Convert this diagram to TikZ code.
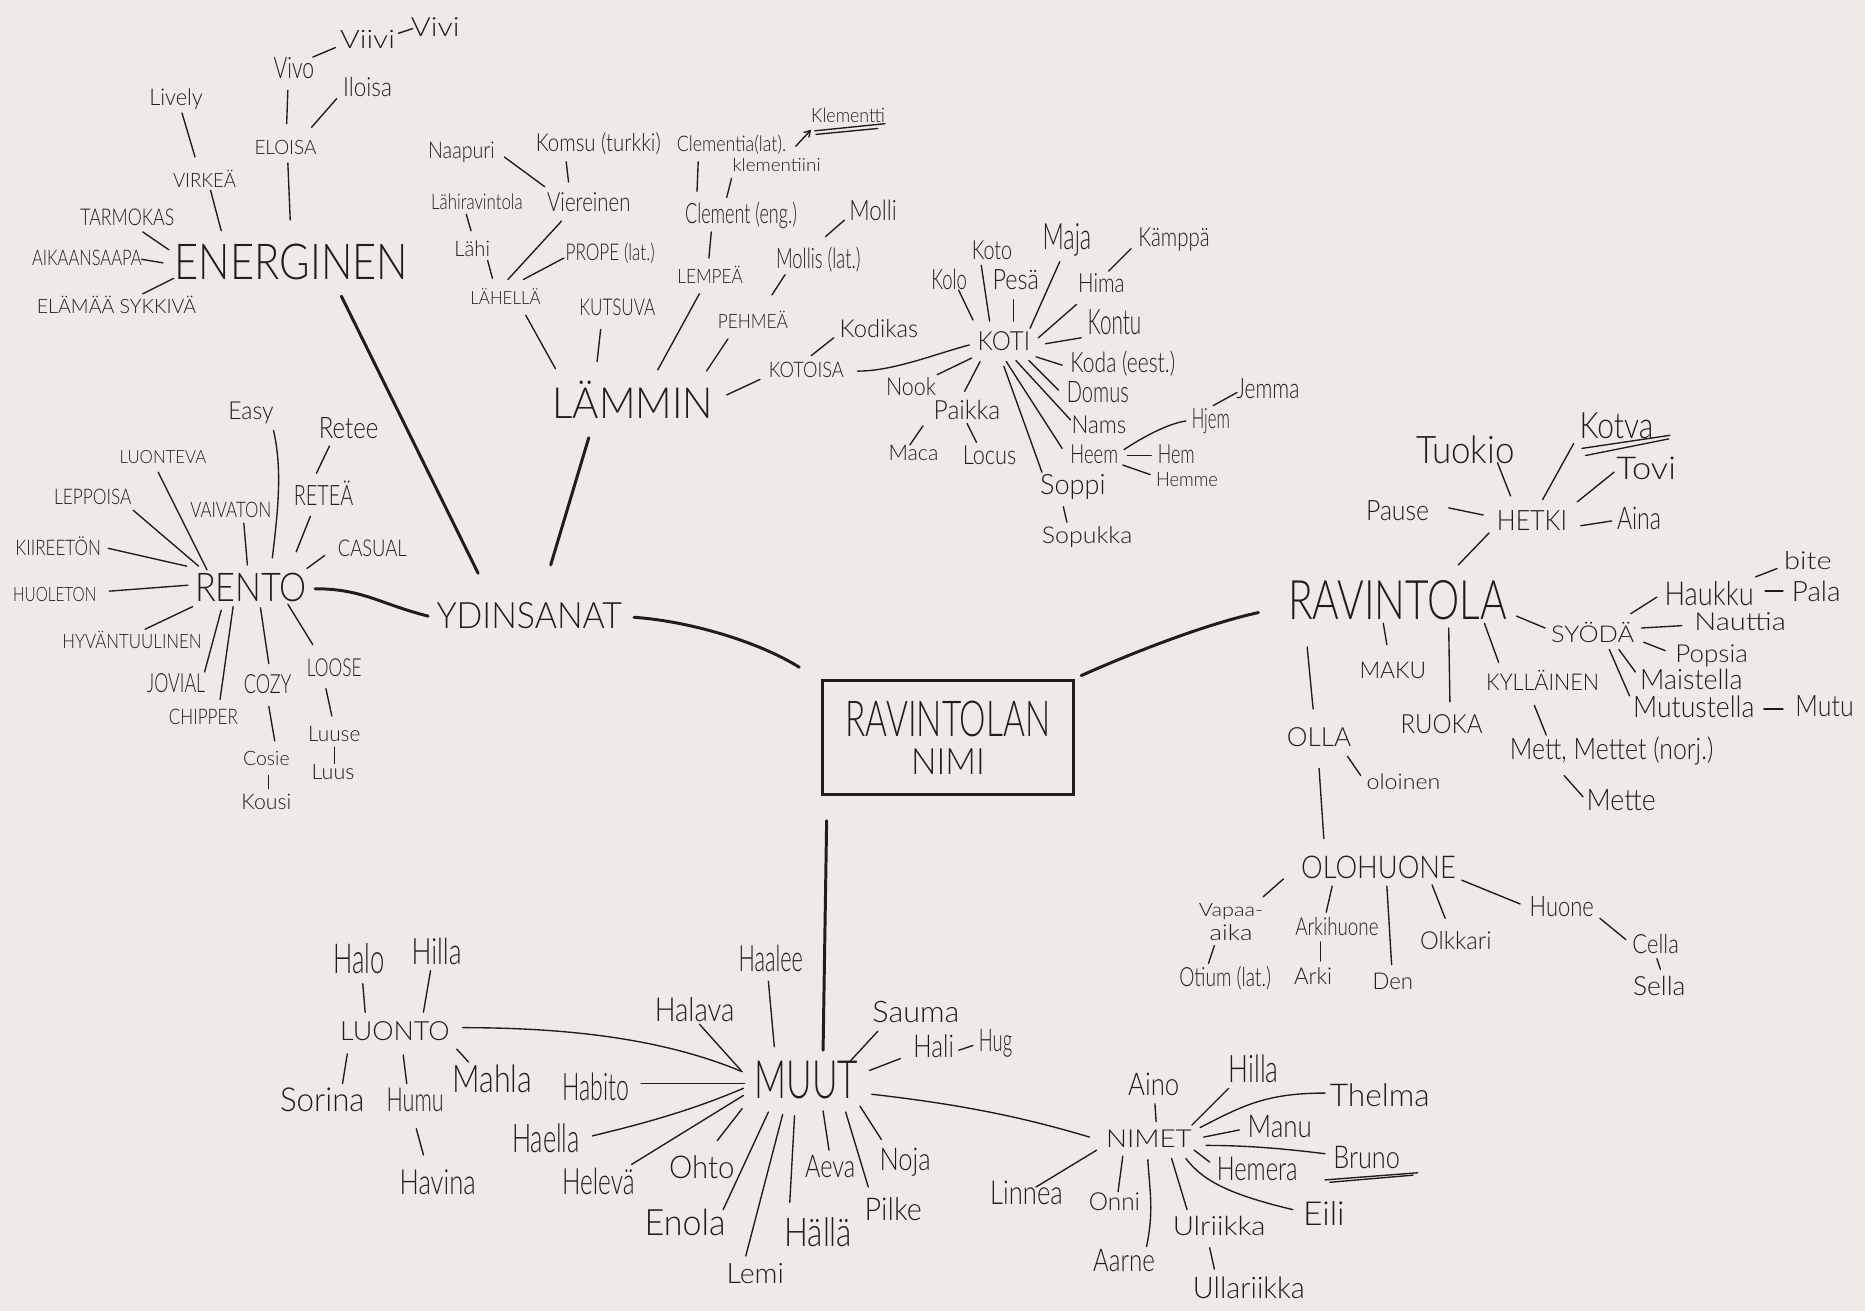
\documentclass[tikz,border=0pt]{standalone}
\usepackage{fontspec}
\IfFontExistsTF{Lato Light}{\setmainfont{Lato Light}}{\setmainfont{Lato}}
\usetikzlibrary{arrows.meta}
\definecolor{bg}{RGB}{238,234,230}
\definecolor{ink}{RGB}{30,30,30}
\newlength\fwl
\newcommand\Fw[3]{\settowidth\fwl{#3}\pgfmathsetmacro\fsx{#1/\fwl}\pgfmathsetmacro\fsy{max(min(#2/7.2,1.7*\fsx),0.85*\fsx)}\scalebox{\fsx}[\fsy]{#3}}
\newcommand\Cn[6]{\draw[ln] ([shift={(#2,#3)}]#1.center) -- ([shift={(#5,#6)}]#4.center);}
\newcommand\Mn[6]{\draw[mainln] ([shift={(#2,#3)}]#1.center) -- ([shift={(#5,#6)}]#4.center);}
\begin{document}
\begin{tikzpicture}[x=1pt,y=-1pt,
  every node/.style={text=ink, inner sep=0pt, anchor=center},
  ln/.style={draw=ink, line width=1.15pt, line cap=round},
  mainln/.style={draw=ink, line width=2.5pt, line cap=round}]
\fill[bg] (0,0) rectangle (1568,1102);
\useasboundingbox (0,0) rectangle (1568,1102);

% ---------- centre ----------
\node[draw=ink, line width=2pt, minimum width=211pt, minimum height=96pt, align=center] (box) at (797,620)
  {\Fw{172}{30}{RAVINTOLAN}\\[9pt]\Fw{62}{22}{NIMI}};
\node (ydin) at (445,518) {\Fw{156}{22}{YDINSANAT}};
\node (ravintola) at (1175,505) {\Fw{184}{33}{RAVINTOLA}};
\node (muut) at (678,908) {\Fw{87}{32}{MUUT}};

\draw[mainln] ([shift={(88,1)}]ydin.center) .. controls +(45,3) and +(-35,-22) .. ([shift={(-125,-59)}]box.center);
\draw[mainln] ([shift={(112,-52)}]box.center) .. controls +(45,-20) and +(-45,10) .. ([shift={(-117,10)}]ravintola.center);
\Mn{box}{-102}{70}{muut}{14}{-25}

% ---------- ENERGINEN ----------
\node (ener) at (245,220) {\Fw{196}{30}{ENERGINEN}};
\node (virkea) at (172,150) {\Fw{53}{12}{VIRKEÄ}};
\node (lively) at (148,83) {\Fw{45}{14}{Lively}};
\node (eloisa) at (240,124) {\Fw{52}{12}{ELOISA}};
\node (vivo) at (247,57) {\Fw{34}{18}{Vivo}};
\node (iloisa) at (309,73) {\Fw{41}{16}{Iloisa}};
\node (viivi) at (309,33) {\Fw{46}{15}{Viivi}};
\node (vivi) at (366,23) {\Fw{41}{16}{Vivi}};
\node (tarmo) at (107,183) {\Fw{79}{14}{TARMOKAS}};
\node (aikaan) at (73,217) {\Fw{92}{13}{AIKAANSAAPA}};
\node (elamaa) at (98,256) {\Fw{134}{12}{ELÄMÄÄ SYKKIVÄ}};
\Cn{virkea}{5}{10}{ener}{-59}{-26}
\Cn{lively}{5}{12}{virkea}{-8}{-18}
\Cn{eloisa}{2}{13}{ener}{-1}{-35}
\Cn{vivo}{-5}{19}{eloisa}{1}{-20}
\Cn{iloisa}{-26}{10}{eloisa}{22}{-17}
\Cn{vivo}{16}{-9}{viivi}{-27}{7}
\Cn{viivi}{26}{-5}{vivi}{-19}{1}
\Cn{tarmo}{13}{12}{ener}{-103}{-10}
\Cn{aikaan}{46}{1}{ener}{-108}{1}
\Cn{elamaa}{22}{-9}{ener}{-99}{14}
\Mn{ener}{42}{29}{ydin}{-43}{-36}

% ---------- LÄMMIN ----------
\node (lammin) at (532,336) {\Fw{135}{26}{LÄMMIN}};
\node (lahella) at (425,249) {\Fw{59}{11}{LÄHELLÄ}};
\node (lahi) at (397,209) {\Fw{30}{13}{Lähi}};
\node (lahirav) at (401,170) {\Fw{77}{13}{Lähiravintola}};
\node (viereinen) at (495,170) {\Fw{70}{16}{Viereinen}};
\node (naapuri) at (388,128) {\Fw{56}{14}{Naapuri}};
\node (komsu) at (503,121) {\Fw{105}{15}{Komsu (turkki)}};
\node (prope) at (513,213) {\Fw{75}{14}{PROPE (lat.)}};
\node (kutsuva) at (519,258) {\Fw{64}{14}{KUTSUVA}};
\node (lempea) at (597,231) {\Fw{55}{12}{LEMPEÄ}};
\node (clement) at (623,181) {\Fw{94}{17}{Clement (eng.)}};
\node (clementia) at (615,122) {\Fw{92}{13}{Clementia(lat).}};
\node (klementiini) at (653,139) {\Fw{74}{11}{klementiini}};
\node (klementti) at (713,97) {\Fw{62}{12}{Klementti}};
\node (pehmea) at (633,269) {\Fw{59}{12}{PEHMEÄ}};
\node (mollis) at (688,218) {\Fw{71}{17}{Mollis (lat.)}};
\node (molli) at (734,177) {\Fw{40}{17}{Molli}};
\node (kotoisa) at (678,311) {\Fw{63}{13}{KOTOISA}};
\node (kodikas) at (739,276) {\Fw{66}{15}{Kodikas}};
\Cn{lahella}{17}{16}{lammin}{-65}{-26}
\Cn{lahi}{13}{10}{lahella}{-11}{-15}
\Cn{lahirav}{-9}{10}{lahi}{-1}{-15}
\Cn{viereinen}{-23}{16}{lahella}{2}{-14}
\Cn{naapuri}{36}{4}{viereinen}{-37}{-13}
\Cn{komsu}{-27}{15}{viereinen}{-17}{-17}
\Cn{prope}{-39}{4}{lahella}{15}{-14}
\Cn{kutsuva}{-14}{19}{lammin}{-30}{-32}
\Cn{lempea}{-9}{16}{lammin}{21}{-25}
\Cn{clement}{-25}{14}{lempea}{-1}{-14}
\Cn{clementia}{-28}{14}{clement}{-37}{-20}
\Cn{klementiini}{-38}{11}{clement}{-12}{-15}
\draw[ln, -{Straight Barb[length=5pt,width=6pt]}] ([shift={(54,1)}]clementia.center) -- ([shift={(-31,12)}]klementti.center);
\draw[ln] ([shift={(-28,13)}]klementti.center) -- ([shift={(31,7)}]klementti.center);
\draw[ln] ([shift={(-27,16)}]klementti.center) -- ([shift={(25,11)}]klementti.center);
\Cn{pehmea}{-21}{16}{lammin}{62}{-24}
\Cn{mollis}{-28}{13}{pehmea}{16}{-21}
\Cn{molli}{-24}{8}{mollis}{6}{-19}
\Cn{kotoisa}{-39}{8}{lammin}{79}{-4}
\Cn{kodikas}{-38}{8}{kotoisa}{4}{-12}
\Mn{lammin}{-37}{32}{ydin}{18}{-43}

% ---------- KOTI ----------
\node (koti) at (844,287) {\Fw{44}{16}{KOTI}};
\node (kolo) at (798,235) {\Fw{30}{17}{Kolo}};
\node (koto) at (834,210) {\Fw{34}{16}{Koto}};
\node (pesa) at (854,235) {\Fw{39}{17}{Pesä}};
\node (maja) at (897,202) {\Fw{41}{22}{Maja}};
\node (hima) at (926,238) {\Fw{39}{16}{Hima}};
\node (kamppa) at (987,201) {\Fw{60}{16}{Kämppä}};
\node (kontu) at (937,271) {\Fw{45}{22}{Kontu}};
\node (koda) at (944,306) {\Fw{88}{17}{Koda (eest.)}};
\node (domus) at (923,330) {\Fw{52}{18}{Domus}};
\node (nams) at (924,357) {\Fw{46}{15}{Nams}};
\node (heem) at (920,382) {\Fw{40}{16}{Heem}};
\node (soppi) at (902,409) {\Fw{55}{17}{Soppi}};
\node (sopukka) at (914,452) {\Fw{76}{14}{Sopukka}};
\node (hjem) at (1018,354) {\Fw{32}{17}{Hjem}};
\node (jemma) at (1066,327) {\Fw{53}{17}{Jemma}};
\node (hem) at (989,382) {\Fw{31}{16}{Hem}};
\node (hemme) at (998,403) {\Fw{52}{12}{Hemme}};
\node (nook) at (766,325) {\Fw{42}{15}{Nook}};
\node (paikka) at (813,345) {\Fw{56}{16}{Paikka}};
\node (maca) at (768,381) {\Fw{42}{13}{Maca}};
\node (locus) at (832,383) {\Fw{45}{16}{Locus}};
\draw[ln] ([shift={(43,1)}]kotoisa.center) .. controls +(30,0) and +(-30,8) .. ([shift={(-29,3)}]koti.center);
\Cn{kolo}{8}{9}{koti}{-26}{-18}
\Cn{koto}{-9}{13}{koti}{-12}{-17}
\Cn{pesa}{-2}{17}{koti}{8}{-17}
\Cn{maja}{-6}{18}{koti}{22}{-11}
\Cn{hima}{-21}{18}{koti}{29}{-3}
\Cn{kamppa}{-36}{8}{hima}{6}{-10}
\Cn{kontu}{-28}{13}{koti}{35}{2}
\Cn{koda}{-51}{1}{koti}{27}{13}
\Cn{domus}{-33}{-2}{koti}{21}{16}
\Cn{nams}{-24}{-4}{koti}{10}{16}
\Cn{heem}{-27}{-5}{koti}{2}{17}
\Cn{soppi}{-26}{-12}{koti}{0}{21}
\Cn{soppi}{-8}{17}{sopukka}{-17}{-13}
\draw[ln] ([shift={(25,-4)}]heem.center) .. controls +(15,-10) and +(-15,2) .. ([shift={(-21,0)}]hjem.center);
\Cn{hjem}{2}{-13}{jemma}{-26}{3}
\Cn{heem}{28}{1}{hem}{-21}{1}
\Cn{heem}{24}{9}{hemme}{-31}{-4}
\Cn{nook}{22}{-10}{koti}{-27}{14}
\Cn{paikka}{-2}{-16}{koti}{-20}{17}
\Cn{maca}{-3}{-7}{paikka}{-37}{13}
\Cn{locus}{-11}{-11}{paikka}{0}{11}

% ---------- RENTO ----------
\node (rento) at (211,494) {\Fw{94}{24}{RENTO}};
\node (easy) at (211,347) {\Fw{38}{15}{Easy}};
\node (retee) at (293,360) {\Fw{50}{18}{Retee}};
\node (retea) at (272,415) {\Fw{50}{17}{RETEÄ}};
\node (casual) at (313,461) {\Fw{58}{14}{CASUAL}};
\node (vaivaton) at (194,429) {\Fw{68}{13}{VAIVATON}};
\node (luonteva) at (137,384) {\Fw{73}{11}{LUONTEVA}};
\node (leppoisa) at (78,418) {\Fw{65}{13}{LEPPOISA}};
\node (kiireeton) at (49,459) {\Fw{72}{13}{KIIREETÖN}};
\node (huoleton) at (46,500) {\Fw{70}{12}{HUOLETON}};
\node (hyvan) at (111,538) {\Fw{117}{12}{HYVÄNTUULINEN}};
\node (jovial) at (148,574) {\Fw{49}{16}{JOVIAL}};
\node (chipper) at (171,603) {\Fw{58}{13}{CHIPPER}};
\node (cozy) at (225,575) {\Fw{40}{16}{COZY}};
\node (cosie) at (224,638) {\Fw{39}{12}{Cosie}};
\node (kousi) at (224,674) {\Fw{42}{13}{Kousi}};
\node (loose) at (281,561) {\Fw{46}{15}{LOOSE}};
\node (luuse) at (281,617) {\Fw{44}{13}{Luuse}};
\node (luus) at (280,649) {\Fw{36}{13}{Luus}};
\draw[ln] ([shift={(19,15)}]easy.center) .. controls +(8,35) and +(4,-35) .. ([shift={(18,-25)}]rento.center);
\Cn{retee}{-16}{15}{retea}{-6}{-17}
\Cn{retea}{-11}{19}{rento}{38}{-30}
\Cn{casual}{-40}{6}{rento}{47}{-16}
\Cn{vaivaton}{11}{11}{rento}{-3}{-19}
\Cn{luonteva}{-4}{13}{rento}{-37}{-15}
\Cn{leppoisa}{34}{11}{rento}{-44}{-18}
\Cn{kiireeton}{42}{2}{rento}{-54}{-18}
\Cn{huoleton}{46}{-3}{rento}{-53}{-2}
\Cn{hyvan}{11}{-9}{rento}{-49}{16}
\Cn{jovial}{24}{-9}{rento}{-25}{19}
\Cn{chipper}{14}{-15}{rento}{-15}{16}
\Cn{cozy}{1}{-17}{rento}{8}{17}
\Cn{cozy}{1}{19}{cosie}{7}{-15}
\Cn{cosie}{2}{14}{kousi}{2}{-11}
\Cn{loose}{-18}{-19}{rento}{31}{14}
\Cn{loose}{-7}{18}{luuse}{-2}{-15}
\Cn{luuse}{0}{11}{luus}{1}{-7}
\draw[mainln] ([shift={(54,1)}]rento.center) .. controls +(40,0) and +(-40,-10) .. ([shift={(-85,0)}]ydin.center);

% ---------- RAVINTOLA ----------
\node (hetki) at (1288,438) {\Fw{59}{17}{HETKI}};
\node (pause) at (1175,429) {\Fw{53}{17}{Pause}};
\node (tuokio) at (1232,378) {\Fw{83}{23}{Tuokio}};
\node (kotva) at (1359,358) {\Fw{62}{22}{Kotva}};
\node (tovi) at (1384,394) {\Fw{50}{19}{Tovi}};
\node (aina) at (1378,436) {\Fw{37}{19}{Aina}};
\node (syoda) at (1339,532) {\Fw{70}{14}{SYÖDÄ}};
\node (haukku) at (1437,499) {\Fw{75}{20}{Haukku}};
\node (bite) at (1520,471) {\Fw{40}{15}{bite}};
\node (pala) at (1527,497) {\Fw{41}{17}{Pala}};
\node (nauttia) at (1463,523) {\Fw{77}{15}{Nauttia}};
\node (popsia) at (1439,551) {\Fw{61}{15}{Popsia}};
\node (maistella) at (1422,571) {\Fw{86}{17}{Maistella}};
\node (mutustella) at (1424,594) {\Fw{102}{18}{Mutustella}};
\node (mutu) at (1534,594) {\Fw{49}{18}{Mutu}};
\node (maku) at (1171,564) {\Fw{56}{14}{MAKU}};
\node (ruoka) at (1212,609) {\Fw{69}{16}{RUOKA}};
\node (kyll) at (1297,572) {\Fw{95}{14}{KYLLÄINEN}};
\node (mett) at (1355,631) {\Fw{171}{18}{Mett, Mettet (norj.)}};
\node (mette) at (1363,673) {\Fw{58}{18}{Mette}};
\node (olla) at (1109,620) {\Fw{54}{16}{OLLA}};
\node (oloinen) at (1180,657) {\Fw{62}{13}{oloinen}};
\node (olohuone) at (1159,729) {\Fw{130}{19}{OLOHUONE}};
\Cn{hetki}{-36}{10}{ravintola}{51}{-30}
\Cn{pause}{43}{-2}{hetki}{-41}{-5}
\Cn{tuokio}{27}{11}{hetki}{-18}{-21}
\Cn{kotva}{-36}{15}{hetki}{9}{-18}
\draw[ln] ([shift={(-29,19)}]kotva.center) -- ([shift={(45,8)}]kotva.center);
\draw[ln] ([shift={(-26,25)}]kotva.center) -- ([shift={(44,11)}]kotva.center);
\Cn{tovi}{-27}{3}{hetki}{38}{-16}
\Cn{aina}{-23}{2}{hetki}{41}{4}
\Cn{ravintola}{100}{13}{syoda}{-40}{-4}
\Cn{syoda}{32}{-16}{haukku}{-44}{3}
\Cn{haukku}{39}{-14}{bite}{-26}{7}
\Cn{haukku}{47}{-2}{pala}{-28}{0}
\Cn{syoda}{41}{-4}{nauttia}{-49}{3}
\Cn{syoda}{43}{8}{popsia}{-39}{-4}
\Cn{syoda}{22}{14}{maistella}{-47}{-6}
\Cn{syoda}{14}{14}{mutustella}{-54}{-9}
\Cn{mutustella}{59}{2}{mutu}{-35}{2}
\Cn{ravintola}{-12}{19}{maku}{-5}{-22}
\Cn{ravintola}{43}{23}{ruoka}{7}{-19}
\Cn{ravintola}{73}{19}{kyll}{-37}{-15}
\Cn{kyll}{-7}{21}{mett}{-55}{-13}
\Cn{mett}{-40}{21}{mette}{-32}{-3}
\Cn{ravintola}{-76}{39}{olla}{-5}{-24}
\Cn{olla}{24}{16}{oloinen}{-36}{-5}
\Cn{olla}{0}{26}{olohuone}{-46}{-24}

% ---------- OLOHUONE ----------
\node[align=center] (vapaa) at (1035,775) {\Fw{54}{11}{Vapaa-}\\[3pt]\Fw{36}{9}{aika}};
\node (otium) at (1030,822) {\Fw{77}{16}{Otium (lat.)}};
\node (arkihuone) at (1124,779) {\Fw{70}{15}{Arkihuone}};
\node (arki) at (1104,821) {\Fw{32}{14}{Arki}};
\node (den) at (1171,825) {\Fw{34}{14}{Den}};
\node (olkkari) at (1224,791) {\Fw{60}{15}{Olkkari}};
\node (huone) at (1313,762) {\Fw{54}{17}{Huone}};
\node (cella) at (1392,794) {\Fw{39}{16}{Cella}};
\node (sella) at (1395,829) {\Fw{44}{16}{Sella}};
\Cn{olohuone}{-80}{10}{vapaa}{27}{-21}
\Cn{vapaa}{-14}{20}{otium}{-14}{-12}
\Cn{olohuone}{-39}{16}{arkihuone}{-9}{-12}
\Cn{arkihuone}{-14}{13}{arki}{6}{-13}
\Cn{olohuone}{7}{16}{den}{-1}{-14}
\Cn{olohuone}{45}{15}{olkkari}{-9}{-19}
\Cn{olohuone}{70}{11}{huone}{-35}{-2}
\Cn{huone}{32}{10}{cella}{-25}{-4}
\Cn{cella}{1}{12}{sella}{1}{-14}

% ---------- MUUT ----------
\node (luonto) at (332,867) {\Fw{92}{16}{LUONTO}};
\node (halo) at (302,806) {\Fw{43}{25}{Halo}};
\node (hilla1) at (367,800) {\Fw{42}{22}{Hilla}};
\node (sorina) at (271,925) {\Fw{71}{20}{Sorina}};
\node (humu) at (349,925) {\Fw{48}{20}{Humu}};
\node (havina) at (368,994) {\Fw{64}{21}{Havina}};
\node (mahla) at (414,907) {\Fw{67}{23}{Mahla}};
\node (habito) at (501,914) {\Fw{56}{23}{Habito}};
\node (haalee) at (648,806) {\Fw{54}{22}{Haalee}};
\node (halava) at (584,849) {\Fw{67}{20}{Halava}};
\node (haella) at (459,957) {\Fw{57}{24}{Haella}};
\node (heleva) at (503,993) {\Fw{61}{22}{Helevä}};
\node (ohto) at (590,981) {\Fw{55}{19}{Ohto}};
\node (enola) at (576,1028) {\Fw{68}{22}{Enola}};
\node (lemi) at (635,1071) {\Fw{48}{17}{Lemi}};
\node (halla) at (688,1036) {\Fw{57}{24}{Hällä}};
\node (aeva) at (698,981) {\Fw{42}{19}{Aeva}};
\node (pilke) at (751,1017) {\Fw{48}{19}{Pilke}};
\node (noja) at (761,977) {\Fw{43}{19}{Noja}};
\node (sauma) at (770,851) {\Fw{73}{18}{Sauma}};
\node (hali) at (785,880) {\Fw{34}{19}{Hali}};
\node (hug) at (837,877) {\Fw{28}{19}{Hug}};
\Cn{halo}{3}{21}{luonto}{-25}{-16}
\Cn{hilla1}{-5}{16}{luonto}{24}{-16}
\Cn{luonto}{-40}{19}{sorina}{17}{-14}
\Cn{luonto}{7}{20}{humu}{-7}{-14}
\Cn{humu}{1}{24}{havina}{-12}{-23}
\Cn{luonto}{52}{15}{mahla}{-20}{-14}
\draw[ln] ([shift={(57,-3)}]luonto.center) .. controls +(100,0) and +(-60,-25) .. ([shift={(-54,-7)}]muut.center);
\Cn{habito}{38}{-3}{muut}{-52}{3}
\Cn{haalee}{-2}{19}{muut}{-27}{-28}
\Cn{halava}{4}{12}{muut}{-55}{-8}
\draw[ln] ([shift={(39,-2)}]haella.center) .. controls +(50,-12) and +(-40,17) .. ([shift={(-53,7)}]muut.center);
\Cn{heleva}{28}{-14}{muut}{-53}{13}
\Cn{ohto}{13}{-22}{muut}{-54}{24}
\Cn{enola}{32}{-11}{muut}{-32}{27}
\Cn{lemi}{-8}{-15}{muut}{-20}{29}
\Cn{halla}{-24}{-25}{muut}{-10}{30}
\Cn{aeva}{-1}{-14}{muut}{14}{26}
\Cn{pilke}{-21}{-19}{muut}{33}{27}
\Cn{noja}{-20}{-19}{muut}{45}{22}
\Cn{sauma}{-32}{16}{muut}{36}{-15}
\Cn{hali}{-28}{10}{muut}{53}{-8}
\Cn{hali}{21}{3}{hug}{-19}{2}

% ---------- NIMET ----------
\node (nimet) at (966,957) {\Fw{72}{15}{NIMET}};
\node (aino) at (970,912) {\Fw{43}{19}{Aino}};
\node (hilla2) at (1054,899) {\Fw{42}{23}{Hilla}};
\node (thelma) at (1160,921) {\Fw{84}{19}{Thelma}};
\node (manu) at (1076,947) {\Fw{54}{19}{Manu}};
\node (bruno) at (1149,973) {\Fw{56}{19}{Bruno}};
\node (hemera) at (1057,983) {\Fw{68}{20}{Hemera}};
\node (eili) at (1113,1020) {\Fw{35}{20}{Eili}};
\node (linnea) at (863,1003) {\Fw{61}{20}{Linnea}};
\node (onni) at (937,1010) {\Fw{43}{15}{Onni}};
\node (aarne) at (945,1060) {\Fw{52}{19}{Aarne}};
\node (ulriikka) at (1025,1031) {\Fw{78}{16}{Ulriikka}};
\node (ullariikka) at (1050,1083) {\Fw{94}{18}{Ullariikka}};
\draw[ln] ([shift={(55,12)}]muut.center) .. controls +(70,8) and +(-60,-18) .. ([shift={(-50,-1)}]nimet.center);
\Cn{aino}{1}{16}{nimet}{6}{-14}
\Cn{hilla2}{-21}{16}{nimet}{36}{-11}
\draw[ln] ([shift={(-46,-2)}]thelma.center) .. controls +(-50,0) and +(35,-18) .. ([shift={(43,-9)}]nimet.center);
\Cn{manu}{-34}{3}{nimet}{46}{-1}
\draw[ln] ([shift={(-35,-3)}]bruno.center) .. controls +(-40,-5) and +(30,0) .. ([shift={(48,6)}]nimet.center);
\draw[ln] ([shift={(-35,19)}]bruno.center) -- ([shift={(43,13)}]bruno.center);
\draw[ln] ([shift={(-31,21)}]bruno.center) -- ([shift={(39,15)}]bruno.center);
\Cn{hemera}{-40}{-6}{nimet}{38}{10}
\draw[ln] ([shift={(-26,-3)}]eili.center) .. controls +(-50,-12) and +(15,20) .. ([shift={(31,17)}]nimet.center);
\Cn{linnea}{8}{-5}{nimet}{-44}{10}
\Cn{onni}{3}{-8}{nimet}{-22}{15}
\draw[ln] ([shift={(19,-12)}]aarne.center) .. controls +(6,-30) and +(2,30) .. ([shift={(-1,18)}]nimet.center);
\Cn{ulriikka}{-27}{-14}{nimet}{19}{17}
\Cn{ulriikka}{-8}{18}{ullariikka}{-29}{-16}
\end{tikzpicture}
\end{document}
